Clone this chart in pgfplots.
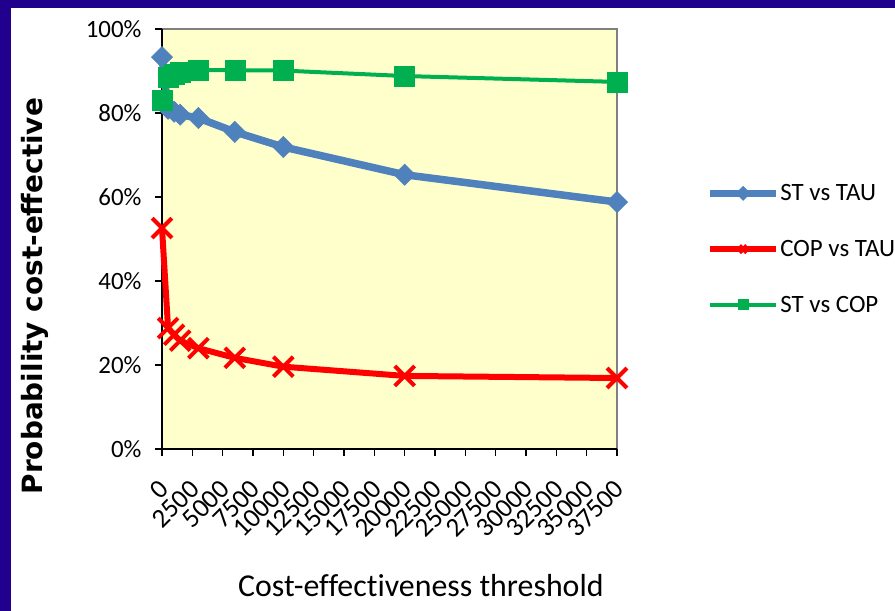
\documentclass[border=0pt]{standalone}
\usepackage{pgfplots}
\pgfplotsset{compat=1.18}
\usepackage{fontspec}
\setmainfont{Carlito}[Ligatures={NoCommon}]
\newfontfamily\labelfont{DejaVu Sans}
\definecolor{slideblue}{RGB}{32,0,140}
\definecolor{plotbg}{RGB}{255,255,204}
\definecolor{stblue}{RGB}{79,129,189}
\definecolor{copred}{RGB}{255,0,0}
\definecolor{stgreen}{RGB}{0,176,80}

% thresholds and probabilities (%)
\pgfplotstableread{
x      sttau  coptau  stcop
0      93.3   52.6    83.0
500    81.0   28.8    88.6
1000   80.3   27.2    89.3
1500   79.6   25.8    89.6
3000   78.8   24.0    90.2
6000   75.5   21.7    90.2
10000  71.9   19.6    90.1
20000  65.3   17.4    88.8
37500  58.8   16.9    87.4
}\cedata

\begin{document}
\begin{tikzpicture}
\useasboundingbox (0,0) rectangle (895bp,611bp);
\fill[slideblue] (0,0) rectangle (895bp,611bp);
\fill[white] (11bp,0) rectangle (895bp,603bp);
\begin{axis}[
  at={(162bp,162bp)}, anchor=south west,
  scale only axis, width=455bp, height=420bp,
  xmin=0, xmax=37500, ymin=0, ymax=100,
  xtick={0,2500,...,37500},
  ytick={0,20,...,100},
  scaled x ticks=false,
  /pgf/number format/.cd, 1000 sep={}, assume math mode=true, /pgfplots/.cd,
  yticklabel={\pgfmathprintnumber{\tick}\%},
  axis x line*=bottom, axis y line*=left,
  axis line style={black, line width=1.5bp, -},
  axis background/.style={fill=plotbg, draw=gray, line width=1.2bp},
  tick align=outside,
  major tick length=7bp,
  tick style={black, line width=1.3bp},
  clip=false,
  xticklabel style={rotate=45, anchor=east, xshift=-15bp, yshift=-22bp,
    font=\fontsize{27}{27}\selectfont},
  yticklabel style={anchor=east, xshift=-10bp, font=\fontsize{25}{25}\selectfont},
  xlabel={Cost-effectiveness threshold},
  ylabel={\labelfont\bfseries Probability cost-effective},
  xlabel style={at={(axis description cs:0.569,-0.352)}, anchor=base, font=\fontsize{32}{32}\selectfont},
  ylabel style={at={(axis description cs:-0.2637,0.364)}, anchor=base, rotate=0, font=\fontsize{28}{28}\selectfont},
  legend style={at={(axis description cs:1.196,0.476)}, anchor=west, draw=none, fill=none,
    font=\fontsize{25}{25}\selectfont, row sep=37bp, inner sep=0pt,
    nodes={inner sep=0.5bp}},
  legend cell align=left,
  legend image code/.code={\draw[mark repeat=2, mark phase=2, #1] plot coordinates {(0bp,0bp) (33bp,0bp) (66bp,0bp)};},
  every legend image post/.style={mark size=5bp},
]
\addplot[stblue, line width=7.5bp, mark=square*, mark size=7.5bp,
  mark options={rotate=45, solid, line width=0.5bp}] table[x=x, y=sttau] {\cedata};
\addlegendentry{ST vs TAU}
\addplot[copred, line width=6bp, mark=x, mark size=14bp,
  mark options={line width=4bp}] table[x=x, y=coptau] {\cedata};
\addlegendentry{COP vs TAU}
\addplot[stgreen, line width=4bp, mark=square*, mark size=10bp,
  mark options={line width=0.5bp}] table[x=x, y=stcop] {\cedata};
\addlegendentry{ST vs COP}
\end{axis}
\end{tikzpicture}
\end{document}
